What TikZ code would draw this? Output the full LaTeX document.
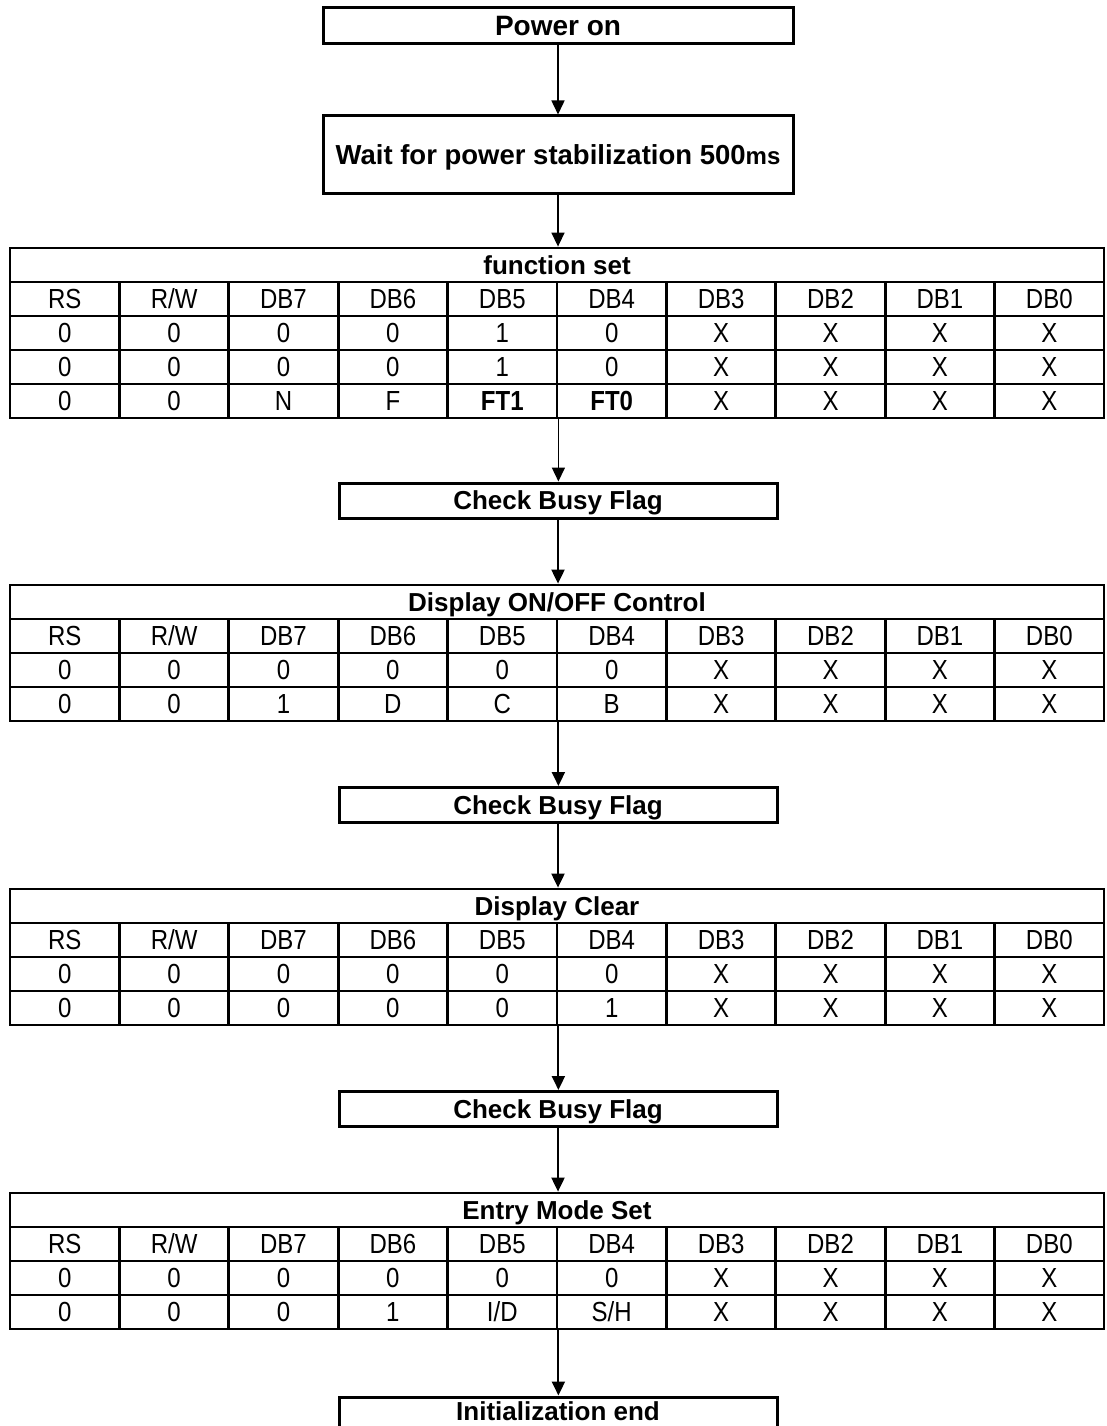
\documentclass[tikz,border=0pt]{standalone}
\usepackage{fontspec}
\setmainfont{Liberation Sans}
\usetikzlibrary{arrows.meta}
\newcommand\cellfnt{\fontsize{24}{26}\selectfont}
\newcommand\boxfnt{\fontsize{26}{28}\selectfont\bfseries}
\newcommand\tallr[1]{\scalebox{1}[1.15]{#1}}
\tikzset{
  cell/.style={draw, line width=2.8pt, minimum width=109.4pt, minimum height=34pt, inner sep=0pt,
    text height=19.8pt, text depth=0pt, font=\cellfnt, anchor=center},
  ttl/.style={draw, line width=2.8pt, minimum width=1094pt, minimum height=34pt, inner sep=0pt,
    text height=18.6pt, text depth=0pt, font=\boxfnt, anchor=center},
  flowbox/.style={draw, line width=3pt, inner sep=0pt, text height=18.6pt, text depth=0pt,
    font=\boxfnt, anchor=center},
  arr/.style={line width=2pt, -{Triangle[length=14pt,width=13pt]}}
}
% #1 table name, #2 row index, #3 y centre, #4 list of values
\newcommand\tabrow[4]{%
  \foreach \v [count=\i] in {#4} {
    \node[cell] (#1-#2-\i) at ({10+109.4*(\i-0.5)}, #3) {\tallr{\v}};
  }%
}
\begin{document}
\begin{tikzpicture}[x=1pt,y=-1pt]
\useasboundingbox (0,0) rectangle (1106,1426);
\fill[white] (0,0) rectangle (1106,1426);

% flow boxes
\node[flowbox, minimum width=470pt, minimum height=36pt, font=\fontsize{28}{30}\selectfont\bfseries, text height=20pt] (power) at (558,26) {Power on};
\node[flowbox, minimum width=470pt, minimum height=77pt, font=\fontsize{27.5}{30}\selectfont\bfseries, text height=19.7pt] (wait) at (558,154.5) {Wait for power stabilization 500{\fontsize{24}{26}\selectfont ms}};

% table 1: function set
\node[ttl] (t1) at (557,265) {function set};
\tabrow{t1}{0}{299}{RS,R/W,DB7,DB6,DB5,DB4,DB3,DB2,DB1,DB0}
\tabrow{t1}{1}{333}{0,0,0,0,1,0,X,X,X,X}
\tabrow{t1}{2}{367}{0,0,0,0,1,0,X,X,X,X}
\tabrow{t1}{3}{401}{0,0,N,F,\textbf{FT1},\textbf{FT0},X,X,X,X}

\node[flowbox, minimum width=438pt, minimum height=35pt] (cbf1) at (558,500.5) {Check Busy Flag};

% table 2: display on/off
\node[ttl] (t2) at (557,602) {Display ON/OFF Control};
\tabrow{t2}{0}{636}{RS,R/W,DB7,DB6,DB5,DB4,DB3,DB2,DB1,DB0}
\tabrow{t2}{1}{670}{0,0,0,0,0,0,X,X,X,X}
\tabrow{t2}{2}{704}{0,0,1,D,C,B,X,X,X,X}

\node[flowbox, minimum width=438pt, minimum height=35pt] (cbf2) at (558,805) {Check Busy Flag};

% table 3: display clear
\node[ttl] (t3) at (557,906) {Display Clear};
\tabrow{t3}{0}{940}{RS,R/W,DB7,DB6,DB5,DB4,DB3,DB2,DB1,DB0}
\tabrow{t3}{1}{974}{0,0,0,0,0,0,X,X,X,X}
\tabrow{t3}{2}{1008}{0,0,0,0,0,1,X,X,X,X}

\node[flowbox, minimum width=438pt, minimum height=35pt] (cbf3) at (558,1109) {Check Busy Flag};

% table 4: entry mode set
\node[ttl] (t4) at (557,1210) {Entry Mode Set};
\tabrow{t4}{0}{1244}{RS,R/W,DB7,DB6,DB5,DB4,DB3,DB2,DB1,DB0}
\tabrow{t4}{1}{1278}{0,0,0,0,0,0,X,X,X,X}
\tabrow{t4}{2}{1312}{0,0,0,1,I/D,S/H,X,X,X,X}

\node[flowbox, minimum width=438pt, minimum height=35pt, text depth=7pt] (init) at (558,1414.5) {Initialization end};

% connectors
\draw[arr, line width=1.5pt] (power.south) -- (power.south |- wait.north);
\draw[arr, line width=1.5pt] (wait.south) -- (wait.south |- t1.north);
\draw[arr, line width=1.5pt] (t1-3-5.south east) -- (t1-3-5.south east |- cbf1.north);
\draw[arr] (cbf1.south) -- (cbf1.south |- t2.north);
\draw[arr] (t2-2-5.south east) -- (t2-2-5.south east |- cbf2.north);
\draw[arr] (cbf2.south) -- (cbf2.south |- t3.north);
\draw[arr] (t3-2-5.south east) -- (t3-2-5.south east |- cbf3.north);
\draw[arr] (cbf3.south) -- (cbf3.south |- t4.north);
\draw[arr] (t4-2-5.south east) -- (t4-2-5.south east |- init.north);
\end{tikzpicture}
\end{document}
